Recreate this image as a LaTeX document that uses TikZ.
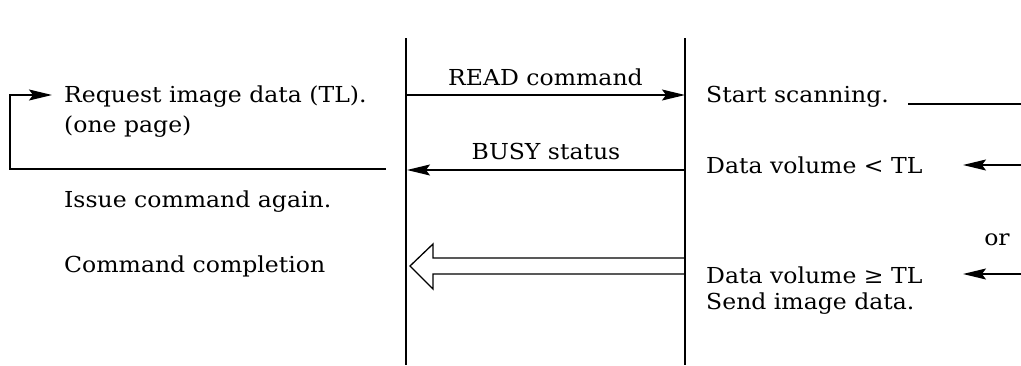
\documentclass[tikz,border=0pt]{standalone}
\usepackage{fontspec}
\setmainfont[FakeStretch=1.07]{DejaVu Serif}
\usetikzlibrary{arrows.meta}
\begin{document}
\begin{tikzpicture}[x=1pt,y=-1pt,
  ln/.style={line width=1.3pt},
  arr/.style={ln,-{Stealth[length=23pt,width=11pt,inset=4pt]}},
  txt/.style={font=\fontsize{22}{26}\selectfont,inner sep=0pt,anchor=west},
  lbl/.style={font=\fontsize{22}{26}\selectfont,inner sep=0pt}]
\useasboundingbox (0,0) rectangle (1021,365);
% lifelines
\coordinate (h1t) at (406,38); \coordinate (h1b) at (406,365);
\coordinate (h2t) at (685,38); \coordinate (h2b) at (685,365);
\draw[ln] (h1t) -- (h1b);
\draw[ln] (h2t) -- (h2b);
% left texts
\node[txt] (req) at (64,97) {Request image data (TL).};
\node[txt] (page) at (64,127) {(one page)};
\node[txt] (issue) at (64,202) {Issue command again.};
\node[txt] (comp) at (64,266) {Command completion};
% right texts
\node[txt] (start) at (706,97) {Start scanning.};
\node[txt] (lt) at (706,165) {Data volume < TL};
\node[lbl] (or) at (997,240) {or};
\node[txt] (ge) at (706,275) {Data volume \symbol{"2265} TL};
\node[txt] (send) at (706,304) {Send image data.};
% messages
\coordinate (r1) at (406,95); \coordinate (r2) at (685,95);
\draw[arr] (r1) -- (r2) node[lbl,midway,above=9pt] (readl) {READ command};
\coordinate (b1) at (685,170); \coordinate (b2) at (407,170);
\draw[arr] (b1) -- (b2) node[lbl,midway,above=10pt] (busyl) {BUSY status};
% loop
\coordinate (l1) at (386,169); \coordinate (l2) at (10,169); \coordinate (l3) at (10,95);
\coordinate (l4) at (52,95);
\draw[arr] (l1) -- (l2) -- (l3) -- (l4);
% hollow arrow
\draw[ln,line join=miter] (685,258) -- (433,258) -- (433,244) -- (410,266) -- (433,289) -- (433,274) -- (685,274);
% right connectors
\coordinate (s1) at (908,104); \coordinate (s2) at (1021,104);
\draw[ln] (s1) -- (s2);
\coordinate (a1) at (1021,165); \coordinate (a2) at (963,165);
\draw[arr] (a1) -- (a2);
\coordinate (c1) at (1021,274); \coordinate (c2) at (963,274);
\draw[arr] (c1) -- (c2);
\end{tikzpicture}
\end{document}
